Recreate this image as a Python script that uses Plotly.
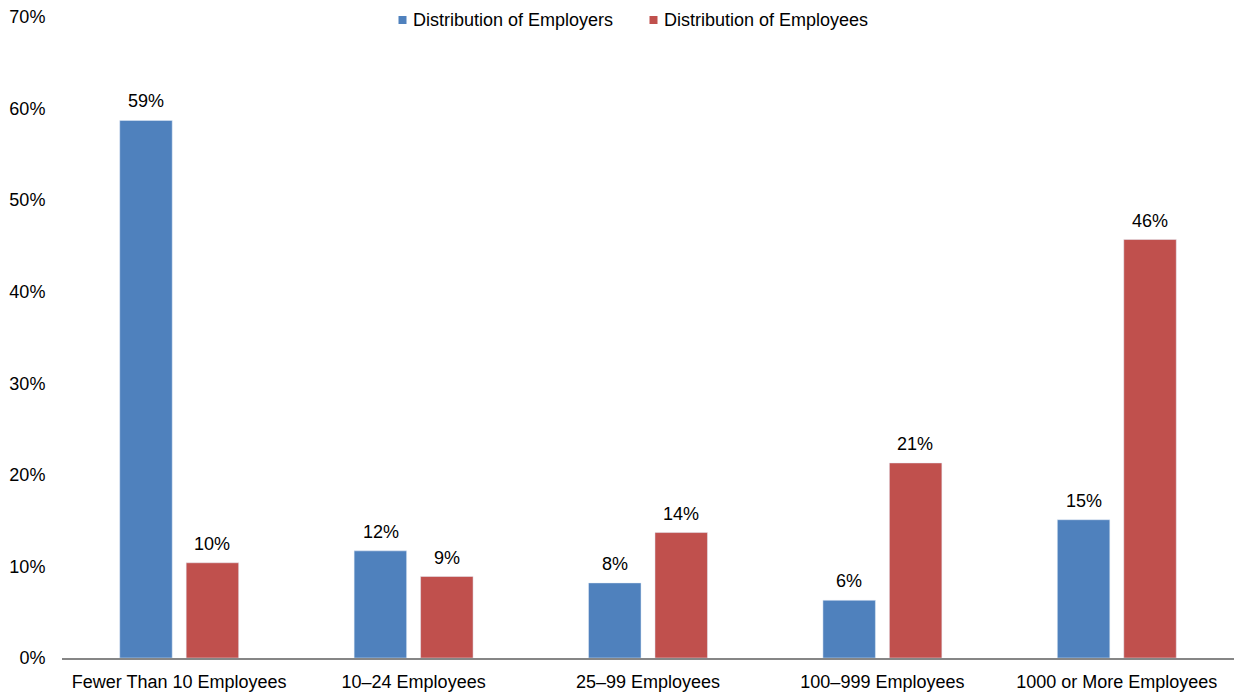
import plotly.graph_objects as go

categories = ["Fewer Than 10 Employees", "10–24 Employees", "25–99 Employees",
              "100–999 Employees", "1000 or More Employees"]
employers = [58.7, 11.7, 8.2, 6.3, 15.1]
employees = [10.4, 8.9, 13.7, 21.3, 45.7]
y_ticks = [0, 10, 20, 30, 40, 50, 60, 70]
y_tick_labels = ["0%", "10%", "20%", "30%", "40%", "50%", "60%", "70%"]

FONT = "Liberation Sans, Arial, sans-serif"
BLUE = "#4F81BD"
RED = "#C0504D"
SERIES = [("Distribution of Employers", employers, BLUE, -33),
          ("Distribution of Employees", employees, RED, 33)]

# Plot area geometry in pixels (used to place the legend keys)
W, H = 1234, 694
ML, MR, MT, MB = 62, 0, 17, 36
PW, PH = W - ML - MR, H - MT - MB


def px_x(px):
    return (px - ML) / PW


def px_y(py):
    return (H - MB - py) / PH


fig = go.Figure()
for name, values, color, _ in SERIES:
    fig.add_trace(go.Bar(
        name=name, x=categories, y=values, marker=dict(color=color),
        showlegend=False, hoverinfo="x+y",
    ))

# Value labels above each bar
for name, values, color, dx in SERIES:
    for cat, v in zip(categories, values):
        fig.add_annotation(
            x=cat, y=v, text=f"{v:.0f}%", showarrow=False,
            xshift=dx, yshift=19, yanchor="middle",
            font=dict(size=18, color="#000000", family=FONT),
        )

# Legend: small square key followed by the series name
legend_items = [(SERIES[0][0], BLUE, 398.5, 410.5),
                (SERIES[1][0], RED, 649.5, 661.5)]
for name, color, sq_x, tx in legend_items:
    fig.add_shape(
        type="rect", xref="paper", yref="paper",
        x0=px_x(sq_x), x1=px_x(sq_x + 8), y0=px_y(24), y1=px_y(16),
        fillcolor=color, line=dict(width=0),
    )
    fig.add_annotation(
        xref="paper", yref="paper", x=px_x(tx), y=px_y(20),
        xanchor="left", yanchor="middle", text=name, showarrow=False,
        font=dict(size=18, color="#000000", family=FONT),
    )

fig.update_layout(
    width=W, height=H,
    margin=dict(l=ML, r=MR, t=MT, b=MB),
    paper_bgcolor="white", plot_bgcolor="white",
    font=dict(family=FONT, size=18, color="#000000"),
    barmode="group", bargap=0.433, bargroupgap=0.21,
    showlegend=False,
    xaxis=dict(
        showline=True, linecolor="#868686", linewidth=1.5, showgrid=False,
        ticks="outside", ticklen=7, tickcolor="rgba(0,0,0,0)",
        tickfont=dict(size=18, family=FONT),
    ),
    yaxis=dict(
        range=[0, 70], tickvals=y_ticks, ticktext=y_tick_labels,
        showgrid=False, showline=False, zeroline=False,
        ticks="outside", ticklen=12, tickcolor="rgba(0,0,0,0)",
        tickfont=dict(size=18, family=FONT),
    ),
)

fig.write_html("out.html")
